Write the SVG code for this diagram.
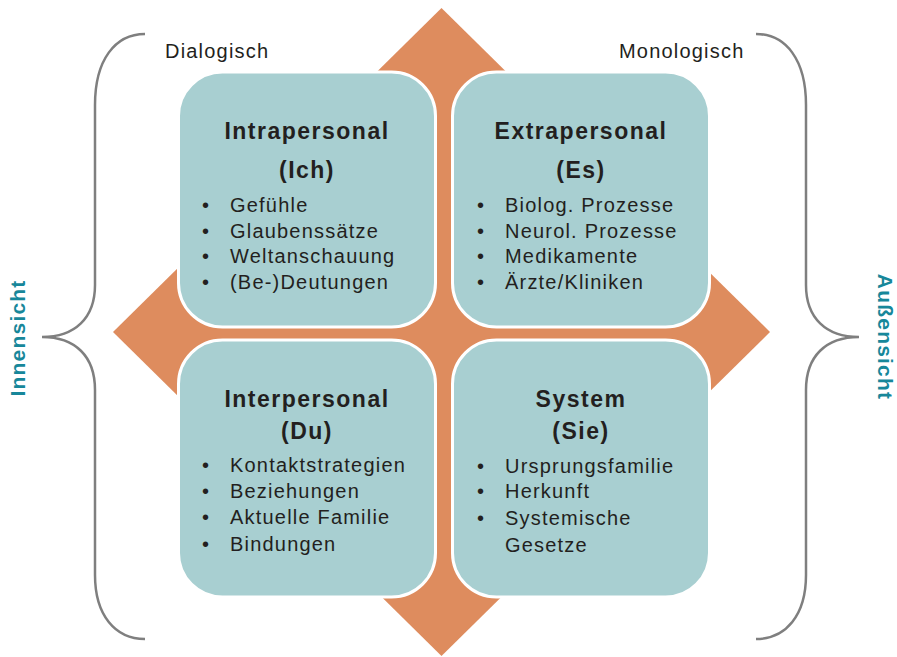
<svg xmlns="http://www.w3.org/2000/svg" width="897" height="657" viewBox="0 0 897 657">
<style>
.box{fill:#a8cfd1;stroke:#ffffff;stroke-width:3}
.t{font-family:"Liberation Sans",Arial,sans-serif;font-weight:bold;font-size:23px;fill:#231f20;text-anchor:middle;letter-spacing:1.5px}
.b{font-family:"Liberation Sans",Arial,sans-serif;font-size:20px;fill:#231f20;letter-spacing:1.2px}
.side{font-family:"Liberation Sans",Arial,sans-serif;font-weight:bold;font-size:21px;fill:#17879a;text-anchor:middle;letter-spacing:1.2px}
.brace{fill:none;stroke:#7f7f7f;stroke-width:2.5}
</style>
<rect width="897" height="657" fill="#ffffff"/>
<polygon id="diamond" points="441.5,8 770,332 441.5,656 113,332" fill="#de8c5e"/>
<g id="braces">
<path class="brace" d="M145,34 C115,34 95,60 95,105 L95,285 C95,318 75,337 42,337 C75,337 95,356 95,390 L95,575 C95,615 115,639 145,639"/>
<path class="brace" d="M756,34 C786,34 806,60 806,105 L806,285 C806,318 826,337 859,337 C826,337 806,356 806,390 L806,575 C806,615 786,639 756,639"/>
</g>
<text class="b" x="165" y="58">Dialogisch</text>
<text class="b" x="619" y="58">Monologisch</text>
<text class="side" transform="translate(25,338) rotate(-90)">Innensicht</text>
<text class="side" transform="translate(878,337) rotate(90)">Außensicht</text>
<g id="intrapersonal">
<rect class="box" x="178.5" y="72" width="257" height="255" rx="44"/>
<text class="t" x="307" y="139">Intrapersonal</text>
<text class="t" x="307" y="178">(Ich)</text>
<text class="b" x="202" y="212">•</text><text class="b" x="230" y="212">Gefühle</text>
<text class="b" x="202" y="238">•</text><text class="b" x="230" y="238">Glaubenssätze</text>
<text class="b" x="202" y="263">•</text><text class="b" x="230" y="263">Weltanschauung</text>
<text class="b" x="202" y="289">•</text><text class="b" x="230" y="289">(Be-)Deutungen</text>
</g>
<g id="extrapersonal">
<rect class="box" x="452.5" y="72" width="257" height="255" rx="44"/>
<text class="t" x="581" y="139">Extrapersonal</text>
<text class="t" x="581" y="178">(Es)</text>
<text class="b" x="477" y="212">•</text><text class="b" x="505" y="212">Biolog. Prozesse</text>
<text class="b" x="477" y="238">•</text><text class="b" x="505" y="238">Neurol. Prozesse</text>
<text class="b" x="477" y="263">•</text><text class="b" x="505" y="263">Medikamente</text>
<text class="b" x="477" y="289">•</text><text class="b" x="505" y="289">Ärzte/Kliniken</text>
</g>
<g id="interpersonal">
<rect class="box" x="178.5" y="340" width="257" height="257" rx="44"/>
<text class="t" x="307" y="407">Interpersonal</text>
<text class="t" x="307" y="439">(Du)</text>
<text class="b" x="202" y="472">•</text><text class="b" x="230" y="472">Kontaktstrategien</text>
<text class="b" x="202" y="498">•</text><text class="b" x="230" y="498">Beziehungen</text>
<text class="b" x="202" y="524">•</text><text class="b" x="230" y="524">Aktuelle Familie</text>
<text class="b" x="202" y="551">•</text><text class="b" x="230" y="551">Bindungen</text>
</g>
<g id="system">
<rect class="box" x="452.5" y="340" width="257" height="257" rx="44"/>
<text class="t" x="581" y="407">System</text>
<text class="t" x="581" y="439">(Sie)</text>
<text class="b" x="477" y="473">•</text><text class="b" x="505" y="473">Ursprungsfamilie</text>
<text class="b" x="477" y="498">•</text><text class="b" x="505" y="498">Herkunft</text>
<text class="b" x="477" y="525">•</text><text class="b" x="505" y="525">Systemische</text>
<text class="b" x="505" y="552">Gesetze</text>
</g>
</svg>
